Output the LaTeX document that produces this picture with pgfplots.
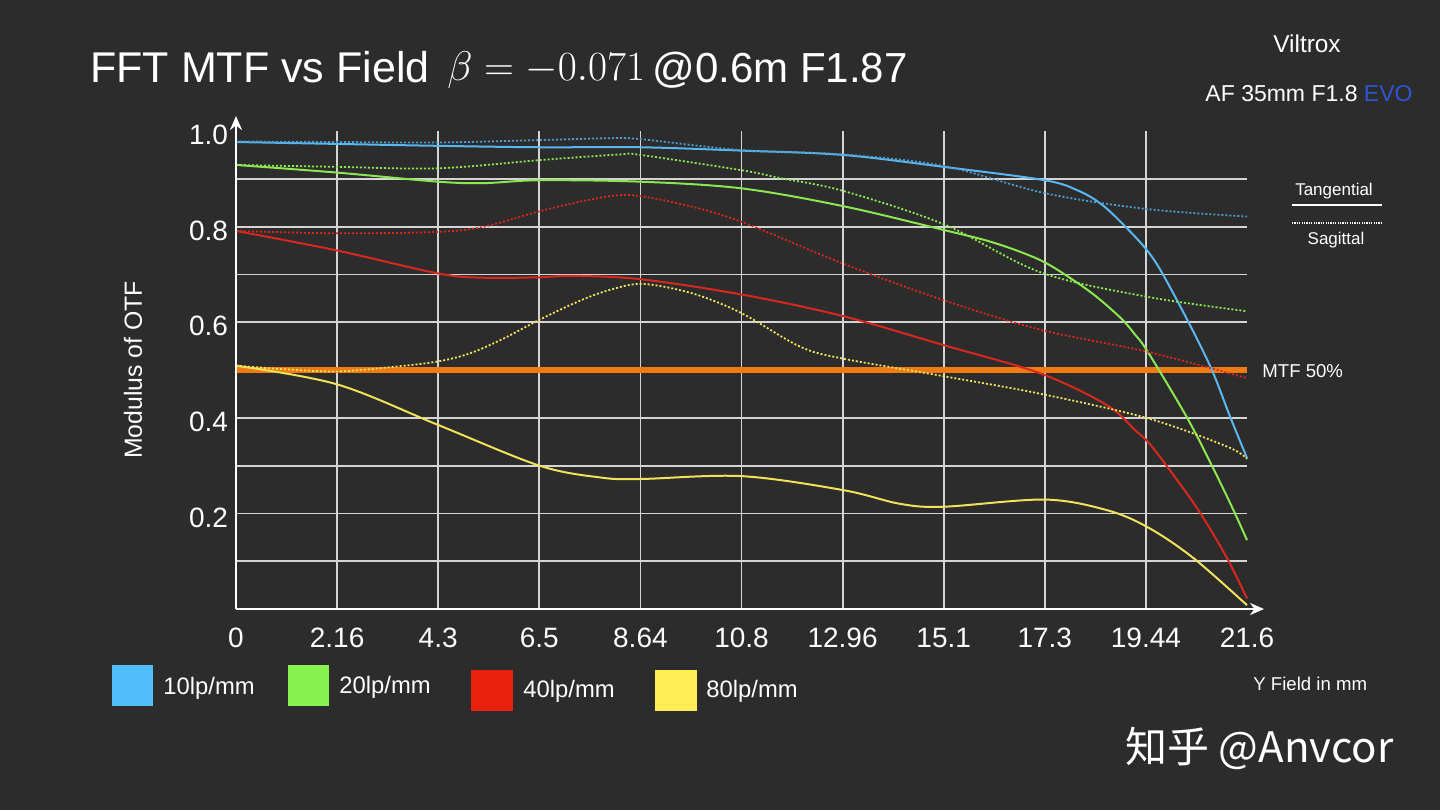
\documentclass[border=0pt]{standalone}
\usepackage[no-math]{fontspec}
\usepackage{pgfplots}
\pgfplotsset{compat=1.18}
\usetikzlibrary{arrows.meta}
\setmainfont{Liberation Sans}
\newfontfamily\cjk{Noto Sans CJK SC}
\definecolor{bg}{HTML}{2C2C2C}
\definecolor{gridc}{HTML}{D4D4D4}
\definecolor{cblue}{HTML}{5AB6EE}
\definecolor{cgreen}{HTML}{8CE650}
\definecolor{cred}{HTML}{D8281E}
\definecolor{cyellow}{HTML}{F0E15A}
\definecolor{sqblue}{HTML}{50BEFA}
\definecolor{sqgreen}{HTML}{88F250}
\definecolor{sqred}{HTML}{E8200E}
\definecolor{sqyellow}{HTML}{FFEE55}
\definecolor{corange}{HTML}{F27A12}
\definecolor{evo}{HTML}{2E55D0}
\begin{document}
\begin{tikzpicture}
\fill[bg] (0pt,0pt) rectangle (720pt,-405pt);
\begin{axis}[
  at={(118pt,-304.5pt)}, anchor=south west,
  scale only axis, width=505.5pt, height=239pt,
  xmin=0, xmax=21.6, ymin=0, ymax=1,
  axis line style={draw=none},
  major tick length=0pt,
  tick style={draw=none},
  grid=major,
  grid style={color=gridc, line width=0.9pt},
  xtick={2.16,4.32,6.48,8.64,10.8,12.96,15.12,17.28,19.44},
  xticklabels={2.16,4.3,6.5,8.64,10.8,12.96,15.1,17.3,19.44},
  extra x ticks={0,21.6},
  extra x tick labels={0,21.6},
  extra x tick style={grid=none},
  ytick={0.1,0.2,0.3,0.4,0.5,0.6,0.7,0.8,0.9},
  yticklabels={,0.2,,0.4,,0.6,,0.8,},
  extra y ticks={1},
  extra y tick labels={1.0},
  extra y tick style={grid=none},
  /pgf/number format/assume math mode=true,
  ticklabel style={font=\fontsize{14}{16}\selectfont, text=white},
  xticklabel style={yshift=-6pt},
  yticklabel style={yshift=-2pt, xshift=-0.5pt},
  clip=false,
]
\addplot[corange, line width=3pt] coordinates {(0,0.5) (21.6,0.5)};
% 10 lp/mm
\addplot[cblue, line width=1pt, smooth, tension=0.55] coordinates {
(0,0.977) (2.16,0.973) (4.32,0.969) (6.48,0.966) (8.64,0.966) (10.8,0.959) (12.96,0.950) (15.12,0.925) (17.28,0.897) (18.0,0.875) (18.5,0.846) (19.0,0.80) (19.46,0.751) (19.78,0.704) (20.35,0.600) (20.85,0.500) (21.24,0.402) (21.6,0.316)};
\addplot[cblue!85!black, line width=0.9pt, dash pattern=on 1pt off 1pt, smooth, tension=0.55] coordinates {
(0,0.978) (2.16,0.977) (4.32,0.976) (6.48,0.981) (8.0,0.985) (8.64,0.983) (10.8,0.960) (12.96,0.951) (15.12,0.927) (17.28,0.870) (19.44,0.837) (21.6,0.821)};
% 20 lp/mm
\addplot[cgreen, line width=1pt, smooth, tension=0.55] coordinates {
(0,0.929) (2.16,0.913) (4.32,0.894) (5.3,0.891) (6.48,0.897) (8.64,0.894) (10.8,0.880) (12.96,0.843) (15.12,0.793) (16.2,0.766) (17.18,0.730) (17.89,0.688) (18.4,0.652) (18.92,0.607) (19.2,0.575) (19.48,0.538) (20.31,0.402) (20.85,0.300) (21.31,0.207) (21.6,0.144)};
\addplot[cgreen, line width=0.9pt, dash pattern=on 1pt off 1pt, smooth, tension=0.55] coordinates {
(0,0.929) (2.16,0.925) (4.32,0.922) (6.48,0.939) (8.2,0.951) (8.64,0.950) (10.8,0.918) (11.6,0.902) (12.96,0.875) (15.12,0.805) (17.2,0.704) (19.48,0.653) (21.6,0.623)};
% 40 lp/mm
\addplot[cred, line width=1pt, smooth, tension=0.55] coordinates {
(0,0.791) (2.16,0.750) (4.32,0.702) (5.3,0.693) (6.48,0.694) (7.2,0.697) (8.64,0.690) (10.8,0.658) (12.96,0.613) (15.12,0.552) (17.18,0.493) (18.6,0.427) (19.21,0.374) (19.48,0.350) (19.88,0.300) (20.56,0.207) (21.17,0.107) (21.6,0.022)};
\addplot[cred, line width=0.9pt, dash pattern=on 1pt off 1pt, smooth, tension=0.55] coordinates {
(0,0.791) (2.16,0.786) (4.32,0.789) (5.3,0.800) (6.48,0.832) (7.5,0.855) (8.4,0.866) (9.6,0.845) (10.8,0.810) (12.96,0.723) (15.12,0.646) (17.2,0.584) (19.48,0.538) (21.6,0.483)};
% 80 lp/mm
\addplot[cyellow, line width=1pt, smooth, tension=0.55] coordinates {
(0,0.509) (2.16,0.470) (4.32,0.385) (6.48,0.300) (7.8,0.275) (8.64,0.272) (10.8,0.278) (12.96,0.249) (14.19,0.220) (15.12,0.214) (17.28,0.229) (18.6,0.207) (19.48,0.171) (20.45,0.107) (21.6,0.008)};
\addplot[cyellow, line width=0.9pt, dash pattern=on 1pt off 1pt, smooth, tension=0.55] coordinates {
(0,0.509) (1.0,0.502) (2.16,0.497) (3.4,0.507) (4.32,0.518) (5.0,0.535) (5.7,0.565) (6.48,0.605) (7.35,0.645) (8.0,0.668) (8.7,0.680) (9.76,0.660) (10.8,0.619) (12.05,0.549) (12.96,0.524) (15.12,0.487) (17.2,0.450) (19.48,0.399) (21.17,0.340) (21.6,0.314)};
\end{axis}
% axes arrows
\draw[white, line width=1.4pt, -{Stealth[length=7pt,width=6pt]}] (118pt,-304.5pt) -- (118pt,-58pt);
\draw[white, line width=1.4pt, -{Stealth[length=7pt,width=6pt]}] (118pt,-304.5pt) -- (632pt,-304.5pt);
% title
\node[anchor=base west, text=white, inner sep=0pt, font=\fontsize{21.5}{24}\selectfont] at (45pt,-41pt) {FFT MTF vs Field};
\node[anchor=base west, text=white, inner sep=0pt, font=\fontsize{22}{24}\selectfont] at (223.5pt,-40pt) {$\beta=-0.071$};
\node[anchor=base west, text=white, inner sep=0pt, font=\fontsize{21}{24}\selectfont] at (326pt,-41pt) {@0.6m F1.87};
% brand
\node[text=white, inner sep=0pt, font=\fontsize{12.2}{14}\selectfont] at (653.5pt,-22pt) {Viltrox};
\node[text=white, inner sep=0pt, font=\fontsize{11.5}{14}\selectfont] at (654.5pt,-47pt) {AF 35mm F1.8 \textcolor{evo}{EVO}};
% T/S key
\node[text=white, inner sep=0pt, font=\fontsize{8.5}{10}\selectfont] at (667pt,-95.5pt) {Tangential};
\draw[white, line width=0.6pt] (646pt,-102.5pt) -- (691pt,-102.5pt);
\draw[white, line width=0.7pt, dash pattern=on 0.6pt off 0.6pt] (646pt,-111.5pt) -- (690.5pt,-111.5pt);
\node[text=white, inner sep=0pt, font=\fontsize{8.5}{10}\selectfont] at (668pt,-120pt) {Sagittal};
\node[anchor=west, text=white, inner sep=0pt, font=\fontsize{9.3}{11}\selectfont] at (631pt,-185.5pt) {MTF 50\%};
\node[anchor=west, text=white, inner sep=0pt, font=\fontsize{9.3}{11}\selectfont] at (626.5pt,-342pt) {Y Field in mm};
% y label
\node[rotate=90, text=white, inner sep=0pt, font=\fontsize{12.4}{14}\selectfont] at (66.5pt,-185pt) {Modulus of OTF};
% legend
\fill[sqblue] (56pt,-332.5pt) rectangle (76.5pt,-353pt);
\node[anchor=west, text=white, inner sep=0pt, font=\fontsize{11.9}{14}\selectfont] at (81.5pt,-344pt) {10lp/mm};
\fill[sqgreen] (144pt,-332.5pt) rectangle (164.5pt,-353pt);
\node[anchor=west, text=white, inner sep=0pt, font=\fontsize{11.9}{14}\selectfont] at (169.5pt,-343.5pt) {20lp/mm};
\fill[sqred] (235.5pt,-335pt) rectangle (256.5pt,-355.5pt);
\node[anchor=west, text=white, inner sep=0pt, font=\fontsize{11.9}{14}\selectfont] at (261.5pt,-345.5pt) {40lp/mm};
\fill[sqyellow] (327.5pt,-335pt) rectangle (348.5pt,-355.5pt);
\node[anchor=west, text=white, inner sep=0pt, font=\fontsize{11.9}{14}\selectfont] at (353pt,-345.5pt) {80lp/mm};
% watermark
\node[anchor=west, text=white, inner sep=0pt, font=\cjk\fontsize{21}{24}\selectfont] at (562.5pt,-374pt) {知乎 @Anvcor};
\pgfresetboundingbox
\useasboundingbox (0pt,0pt) rectangle (720pt,-405pt);
\end{tikzpicture}
\end{document}
